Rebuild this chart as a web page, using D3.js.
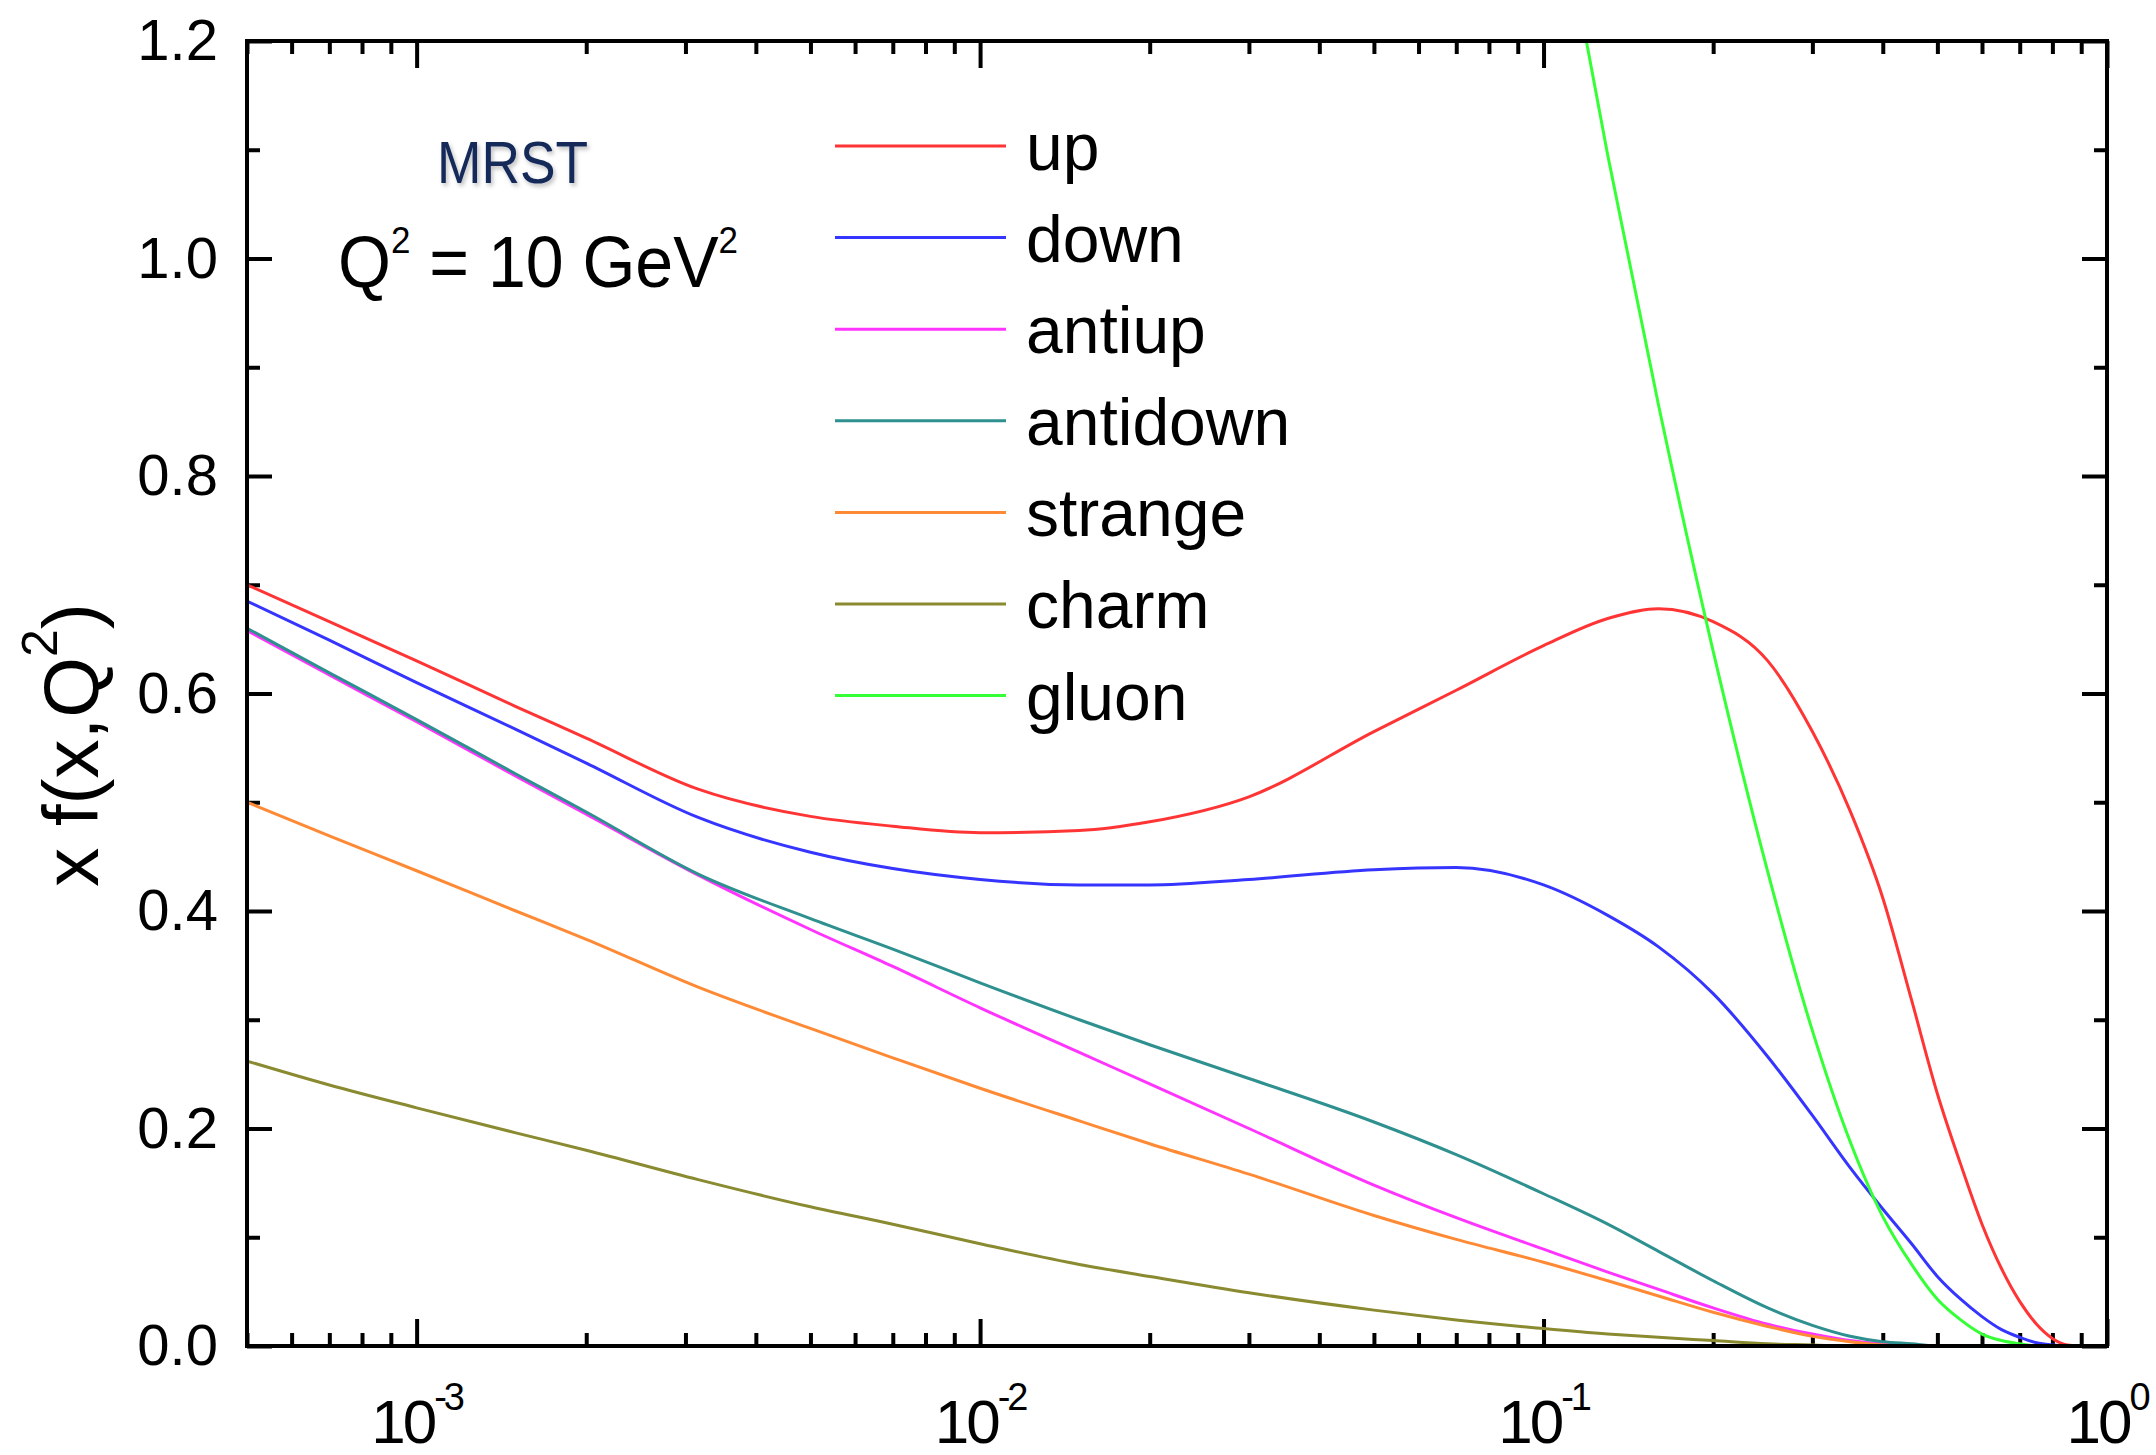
<!DOCTYPE html>
<html>
<head>
<meta charset="utf-8">
<script src="https://cdn.jsdelivr.net/npm/d3@7"></script>
<style>
  body { margin: 0; background: #fff; }
  text { font-family: "Liberation Sans", Arial, sans-serif; }
</style>
</head>
<body>
<script>
// x values (momentum fraction) shared by all curves
var xs = [5e-4, 7e-4, 1e-3, 1.5e-3, 2e-3, 3.16e-3, 5e-3, 7e-3, 1e-2, 1.5e-2, 2e-2, 3e-2, 5e-2, 7e-2,
          0.1, 0.13, 0.16, 0.2, 0.25, 0.3, 0.35, 0.4, 0.45, 0.5, 0.55, 0.6, 0.65, 0.7, 0.75, 0.8, 0.85, 0.9, 1.0]

// x f(x,Q^2)
var up       = [0.700, 0.666, 0.630, 0.588, 0.559, 0.512, 0.487, 0.478, 0.472, 0.474, 0.482, 0.505, 0.565, 0.603, 0.644, 0.669, 0.678,
                0.666, 0.630, 0.565, 0.492, 0.412, 0.318, 0.232, 0.167, 0.112, 0.071, 0.041, 0.020, 0.007, 0.001, 0, 0]
var down     = [0.685, 0.649, 0.610, 0.567, 0.536, 0.486, 0.454, 0.439, 0.429, 0.424, 0.424, 0.429, 0.438, 0.440, 0.424, 0.396, 0.367,
                0.324, 0.266, 0.212, 0.164, 0.126, 0.094, 0.064, 0.043, 0.027, 0.015, 0.008, 0.003, 0.001, 0, 0, 0]
var antiup   = [0.658, 0.617, 0.574, 0.524, 0.489, 0.433, 0.383, 0.349, 0.311, 0.270, 0.241, 0.200, 0.148, 0.118, 0.089, 0.068, 0.052,
                0.035, 0.020, 0.011, 0.005, 0.002, 0.001, 0, 0, 0, 0, 0, 0, 0, 0, 0, 0]
var antidown = [0.660, 0.619, 0.576, 0.526, 0.491, 0.434, 0.393, 0.365, 0.334, 0.300, 0.277, 0.246, 0.206, 0.176, 0.140, 0.112, 0.087,
                0.060, 0.035, 0.019, 0.009, 0.004, 0.002, 0, 0, 0, 0, 0, 0, 0, 0, 0, 0]
var strange  = [0.500, 0.469, 0.437, 0.400, 0.374, 0.330, 0.292, 0.265, 0.237, 0.207, 0.186, 0.158, 0.120, 0.098, 0.077, 0.060, 0.046,
                0.031, 0.018, 0.009, 0.004, 0.001, 0, 0, 0, 0, 0, 0, 0, 0, 0, 0, 0]
var charm    = [0.262, 0.240, 0.219, 0.196, 0.180, 0.153, 0.128, 0.112, 0.094, 0.075, 0.064, 0.049, 0.033, 0.024, 0.016, 0.011, 0.008,
                0.005, 0.002, 0.001, 0, 0, 0, 0, 0, 0, 0, 0, 0, 0, 0, 0, 0]
var gluon    = [null, null, null, null, null, null, null, null, null, null, null, null, null, null, 1.41, 1.095, 0.865,
                0.639, 0.436, 0.29, 0.188, 0.119, 0.075, 0.043, 0.024, 0.011, 0.005, 0.002, 0, 0, 0, 0, 0]

var seriesNames  = ["up", "down", "antiup", "antidown", "strange", "charm", "gluon"]
var seriesValues = [up, down, antiup, antidown, strange, charm, gluon]
var seriesColors = ["#ff3535", "#3535ff", "#ff35ff", "#2f9090", "#ff8a35", "#8a8a30", "#35ff35"]

var yTicks = [0, 0.2, 0.4, 0.6, 0.8, 1.0, 1.2]
var yMinor = [0.1, 0.3, 0.5, 0.7, 0.9, 1.1]
var xDecades = [1e-3, 1e-2, 1e-1, 1]
var xExponents = ["-3", "-2", "-1", "0"]

function main() {
    var width = 2156, height = 1455
    var left = 247, right = 2107, top = 41, bottom = 1346

    var svg = d3.select('body').append('svg')
        .attr("width", width)
        .attr("height", height)

    // drop shadow for the MRST tag
    var defs = svg.append("defs")
    defs.append("filter").attr("id", "shadow")
        .append("feDropShadow")
        .attr("dx", 2).attr("dy", 3).attr("stdDeviation", 2)
        .attr("flood-color", "#000").attr("flood-opacity", 0.25)
    defs.append("clipPath").attr("id", "plotclip")
        .append("rect")
        .attr("x", left).attr("y", top)
        .attr("width", right - left).attr("height", bottom - top)

    // scales
    var xScale = d3.scaleLog().domain([5e-4, 1]).range([left, right])
    var yScale = d3.scaleLinear().domain([0, 1.2]).range([bottom, top])

    // minor x ticks: 2..9 times each decade inside the domain
    var xMinor = []
    ;[1e-4, 1e-3, 1e-2, 1e-1].forEach(function (d) {
        for (var k = 2; k <= 9; k++) {
            var v = d * k
            if (v >= 5e-4 && v < 1) xMinor.push(v)
        }
    })

    function styleAxis(g) {
        g.select(".domain").remove()
        g.selectAll("line").attr("stroke", "#000").attr("stroke-width", 4)
    }

    // bottom + top axes
    svg.append("g").attr("transform", `translate(0,${bottom})`)
        .call(d3.axisBottom(xScale).tickValues(xDecades).tickSizeInner(-27).tickSizeOuter(0).tickFormat(""))
        .call(styleAxis)
    svg.append("g").attr("transform", `translate(0,${bottom})`)
        .call(d3.axisBottom(xScale).tickValues(xMinor).tickSizeInner(-13).tickSizeOuter(0).tickFormat(""))
        .call(styleAxis)
    svg.append("g").attr("transform", `translate(0,${top})`)
        .call(d3.axisTop(xScale).tickValues(xDecades).tickSizeInner(-27).tickSizeOuter(0).tickFormat(""))
        .call(styleAxis)
    svg.append("g").attr("transform", `translate(0,${top})`)
        .call(d3.axisTop(xScale).tickValues(xMinor).tickSizeInner(-13).tickSizeOuter(0).tickFormat(""))
        .call(styleAxis)

    // left + right axes
    var yAxisG = svg.append("g").attr("transform", `translate(${left},0)`)
        .call(d3.axisLeft(yScale).tickValues(yTicks).tickSizeInner(-25).tickSizeOuter(0)
            .tickPadding(29).tickFormat(d3.format(".1f")))
        .call(styleAxis)
    yAxisG.selectAll("text")
        .attr("font-size", 58)
        .attr("font-family", '"Liberation Sans", Arial, sans-serif')
        .attr("fill", "#000")
    svg.append("g").attr("transform", `translate(${left},0)`)
        .call(d3.axisLeft(yScale).tickValues(yMinor).tickSizeInner(-13).tickSizeOuter(0).tickFormat(""))
        .call(styleAxis)
    svg.append("g").attr("transform", `translate(${right},0)`)
        .call(d3.axisRight(yScale).tickValues(yTicks).tickSizeInner(-25).tickSizeOuter(0).tickFormat(""))
        .call(styleAxis)
    svg.append("g").attr("transform", `translate(${right},0)`)
        .call(d3.axisRight(yScale).tickValues(yMinor).tickSizeInner(-13).tickSizeOuter(0).tickFormat(""))
        .call(styleAxis)

    // x tick labels as powers of ten
    var xLab = svg.append("g").selectAll("text")
        .data(xDecades)
        .enter().append("text")
        .attr("x", function (d) { return xScale(d) })
        .attr("y", 1443)
        .attr("text-anchor", "middle")
        .attr("letter-spacing", -3)
        .attr("fill", "#000")
    xLab.append("tspan").attr("font-size", 62).text("10")
    xLab.append("tspan").attr("font-size", 38).attr("dy", -33)
        .text(function (d, i) { return xExponents[i] })

    // curves
    var line = d3.line()
        .defined(function (d) { return d[1] != null })
        .x(function (d) { return xScale(d[0]) })
        .y(function (d) { return yScale(d[1]) })
        .curve(d3.curveMonotoneX)

    var curves = svg.append("g").attr("clip-path", "url(#plotclip)")
    seriesValues.forEach(function (vals, i) {
        var pts = xs.map(function (x, j) { return [x, vals[j]] })
        curves.append("path")
            .attr("d", line(pts))
            .attr("fill", "none")
            .attr("stroke", seriesColors[i])
            .attr("stroke-width", 3)
    })

    // frame
    svg.append("rect")
        .attr("x", left).attr("y", top)
        .attr("width", right - left).attr("height", bottom - top)
        .attr("fill", "none").attr("stroke", "#000").attr("stroke-width", 4)

    // legend
    var leg = svg.append("g").selectAll("g")
        .data(seriesNames)
        .enter().append("g")
        .attr("transform", function (d, i) { return `translate(0,${146 + i * 91.6})` })
    leg.append("line")
        .attr("x1", 835).attr("x2", 1006)
        .attr("stroke", function (d, i) { return seriesColors[i] })
        .attr("stroke-width", 3)
    leg.append("text")
        .attr("x", 1026).attr("y", 24)
        .attr("font-size", 66).attr("fill", "#000")
        .text(function (d) { return d })

    // annotations
    svg.append("text")
        .attr("x", 437).attr("y", 183)
        .attr("font-size", 60).attr("font-weight", 300)
        .attr("fill", "#12295a")
        .attr("textLength", 151).attr("lengthAdjust", "spacingAndGlyphs")
        .attr("filter", "url(#shadow)")
        .text("MRST")

    var q = svg.append("text")
        .attr("transform", "translate(338,287) scale(0.945,1)")
        .attr("font-size", 72).attr("fill", "#000")
    q.append("tspan").text("Q")
    q.append("tspan").attr("font-size", 37).attr("dy", -34).text("2")
    q.append("tspan").attr("dy", 34).text(" = 10 GeV")
    q.append("tspan").attr("font-size", 37).attr("dy", -34).text("2")

    // y axis title
    var yt = svg.append("text")
        .attr("transform", "translate(98,745) rotate(-90)")
        .attr("text-anchor", "middle")
        .attr("font-size", 78).attr("fill", "#000")
    yt.append("tspan").text("x f(x,Q")
    yt.append("tspan").attr("font-size", 50).attr("dy", -41).text("2")
    yt.append("tspan").attr("dy", 41).text(")")
}

main()
</script>
</body>
</html>
